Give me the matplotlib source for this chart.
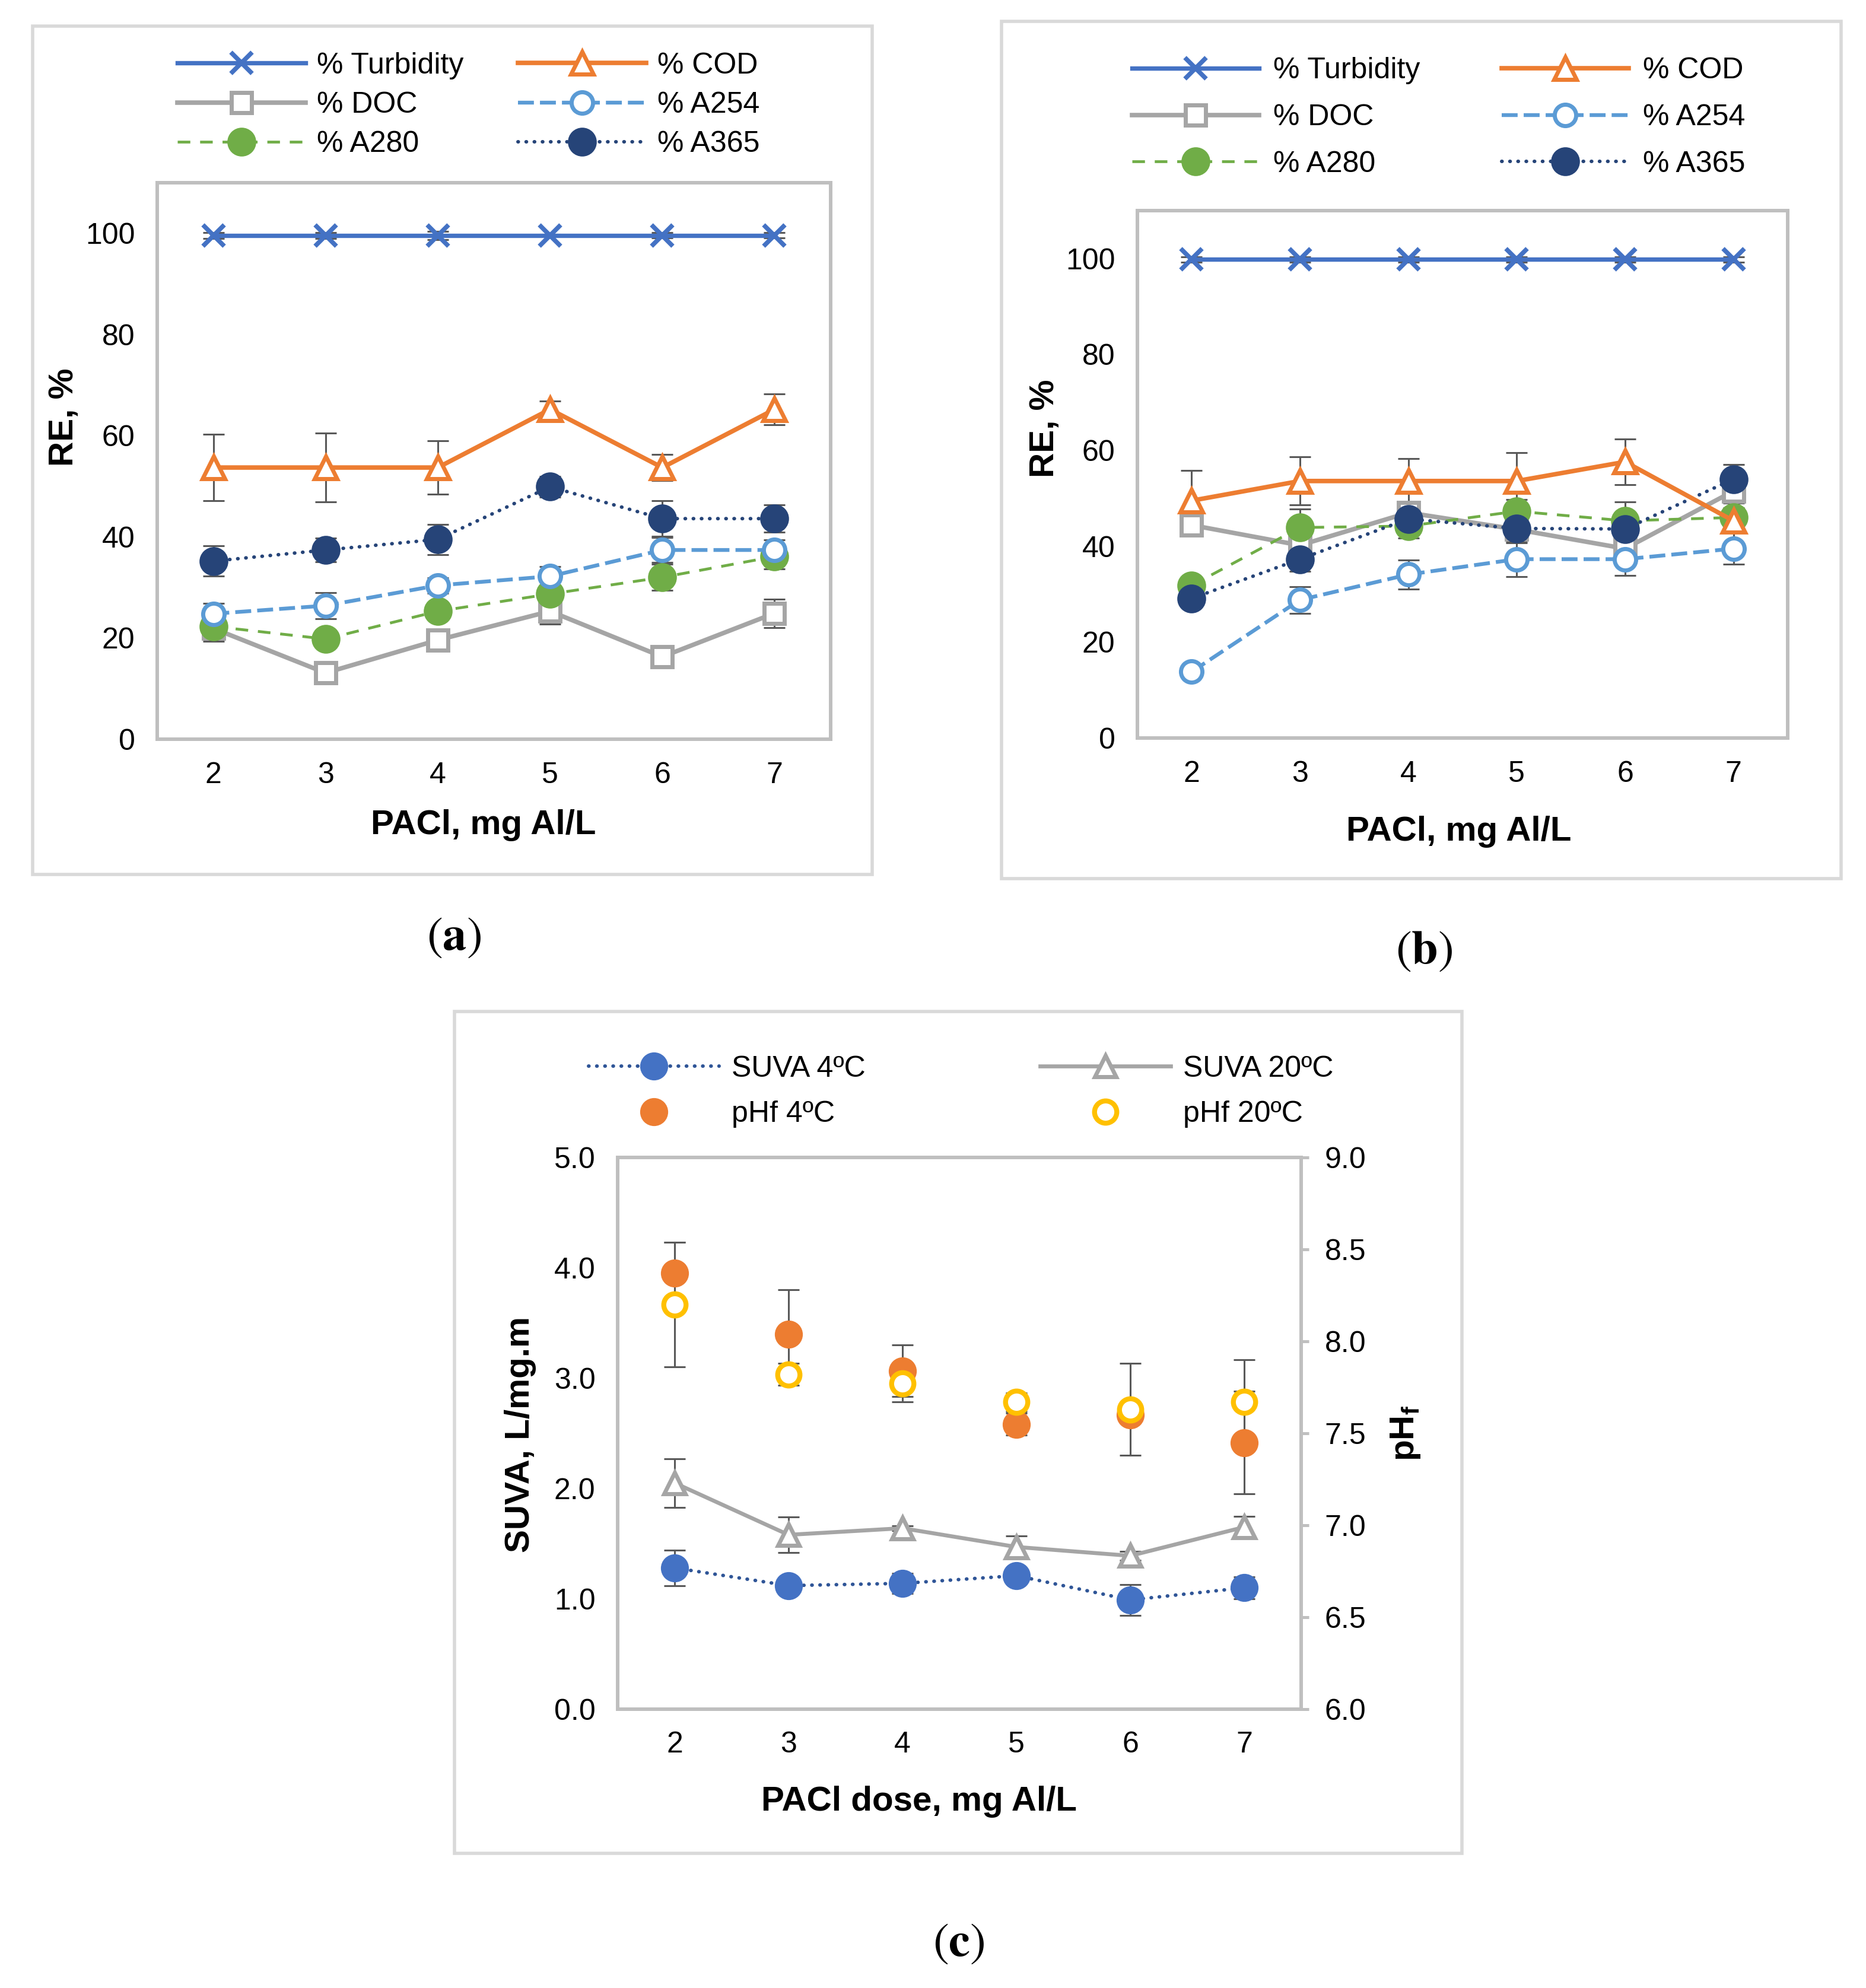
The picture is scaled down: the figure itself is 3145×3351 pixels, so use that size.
import matplotlib
matplotlib.use('Agg')
import matplotlib.pyplot as plt
from matplotlib.patches import Rectangle
from matplotlib.ticker import FormatStrFormatter

plt.rcParams['font.family'] = ['Liberation Sans', 'DejaVu Sans']

# PACl dose, mg Al/L
dose = [2, 3, 4, 5, 6, 7]

# panel (a): removal efficiency, %
turb_a = [99.6, 99.6, 99.6, 99.6, 99.6, 99.6]
turb_a_err = [0.6, 0.6, 0.8, 0.2, 0.5, 0.5]
cod_a = [53.7, 53.7, 53.7, 65.2, 53.7, 65.2]
cod_a_err = [6.6, 6.8, 5.3, 1.7, 2.6, 3.1]
doc_a = [21.9, 13.1, 19.6, 25.3, 16.3, 24.9]
doc_a_err = [2.5, 1.5, 1.5, 2.5, 1.5, 2.8]
a254_a = [24.8, 26.4, 30.4, 32.2, 37.4, 37.4]
a254_a_err = [2.0, 2.6, 1.5, 1.9, 2.5, 2.0]
a280_a = [22.3, 19.8, 25.3, 28.7, 32.0, 36.1]
a280_a_err = [1.5, 1.0, 1.5, 1.5, 2.6, 2.5]
a365_a = [35.2, 37.4, 39.5, 49.9, 43.6, 43.6]
a365_a_err = [3.0, 2.3, 3.0, 2.0, 3.5, 2.7]

# panel (b): removal efficiency, %
turb_b = [99.8, 99.8, 99.8, 99.8, 99.8, 99.8]
turb_b_err = [0.6, 0.6, 0.6, 0.6, 0.6, 0.6]
cod_b = [49.5, 53.6, 53.6, 53.6, 57.6, 45.3]
cod_b_err = [6.3, 5.0, 4.7, 5.9, 4.8, 2.0]
doc_b = [44.4, 40.2, 47.0, 43.5, 39.5, 51.5]
doc_b_err = [1.5, 2.0, 2.0, 2.0, 2.0, 2.5]
a254_b = [13.8, 28.8, 34.1, 37.3, 37.3, 39.5]
a254_b_err = [1.0, 2.8, 3.0, 3.6, 3.4, 3.3]
a280_b = [31.8, 43.9, 44.2, 47.3, 45.3, 46.0]
a280_b_err = [1.5, 3.8, 2.5, 2.5, 4.0, 2.0]
a365_b = [29.1, 37.3, 45.7, 43.7, 43.6, 54.0]
a365_b_err = [1.5, 2.5, 2.0, 3.0, 3.0, 3.0]

# panel (c): SUVA (left axis) and final pH (right axis)
suva4 = [1.28, 1.12, 1.14, 1.21, 0.99, 1.10]
suva4_err = [0.16, 0.03, 0.09, 0.05, 0.14, 0.10]
suva20 = [2.05, 1.58, 1.64, 1.47, 1.39, 1.65]
suva20_err = [0.22, 0.16, 0.02, 0.10, 0.04, 0.10]
ph4 = [8.37, 8.04, 7.84, 7.55, 7.60, 7.45]
ph4_err = [0.17, 0.24, 0.14, 0.06, 0.04, 0.28]
ph20 = [8.20, 7.82, 7.77, 7.67, 7.63, 7.67]
ph20_err = [0.34, 0.06, 0.10, 0.05, 0.25, 0.23]

W, H = 3145, 3351
fig = plt.figure(figsize=(W / 100, H / 100), dpi=100)

FRAME = '#BFBFBF'
BORDER = '#D9D9D9'
ERR = '#595959'
TICK_FS = 36
LAB_FS = 42


def fbox(x0, y0, x1, y1):
    # pixel box -> figure fraction [left, bottom, width, height]
    return [x0 / W, 1 - y1 / H, (x1 - x0) / W, (y1 - y0) / H]


def series(ax, y, err, color, label, marker, mfc, ms, lw, mew=5, dashes=None, dotted=False):
    ax.errorbar(dose, y, yerr=err, fmt='none', ecolor=ERR, elinewidth=2.2,
                capsize=13, capthick=2.2, zorder=2)
    line, = ax.plot(dose, y, color=color, lw=lw, marker=marker, ms=ms, mfc=mfc,
                    mec=color, mew=mew, label=label, zorder=3)
    if dashes is not None:
        line.set_dashes(dashes)
    if dotted:
        line.set_dash_capstyle('round')
    return line


def style_frame(ax):
    for s in ax.spines.values():
        s.set_color(FRAME)
        s.set_linewidth(4.3)


def re_panel(ax, turb, turb_e, cod, cod_e, doc, doc_e, a254, a254_e, a280, a280_e, a365, a365_e):
    h = {}
    h['doc'] = series(ax, doc, doc_e, '#A5A5A5', '% DOC', 's', 'white', 24, 5.5)
    h['a280'] = series(ax, a280, a280_e, '#70AD47', '% A280', 'o', '#70AD47', 30, 3.4, dashes=(4.5, 3.5))
    h['a254'] = series(ax, a254, a254_e, '#5B9BD5', '% A254', 'o', 'white', 26, 4.6, dashes=(4.2, 1.6))
    h['a365'] = series(ax, a365, a365_e, '#264478', '% A365', 'o', '#264478', 30, 4.3,
                       dashes=(0.1, 2.2), dotted=True)
    h['cod'] = series(ax, cod, cod_e, '#ED7D31', '% COD', '^', 'white', 27, 5.5)
    h['turb'] = series(ax, turb, turb_e, '#4472C4', '% Turbidity', 'x', '#4472C4', 26, 5.3, mew=5.5)
    ax.set_xlim(1.5, 7.5)
    ax.set_ylim(0, 110)
    ax.set_xticks(dose)
    ax.set_yticks([0, 20, 40, 60, 80, 100])
    ax.tick_params(length=0, pad=27, labelsize=TICK_FS)
    style_frame(ax)
    return [h['turb'], h['doc'], h['a280'], h['cod'], h['a254'], h['a365']]


# panel borders
for box in [(55, 44, 1470, 1474), (1688, 36, 3103, 1481), (766, 1705, 2464, 3124)]:
    x0, y0, x1, y1 = box
    fig.add_artist(Rectangle((x0 / W, 1 - y1 / H), (x1 - x0) / W, (y1 - y0) / H,
                             transform=fig.transFigure, fill=False,
                             edgecolor=BORDER, lw=4))

# ---- (a)
ax_a = fig.add_axes(fbox(265, 308, 1400, 1246))
hs = re_panel(ax_a, turb_a, turb_a_err, cod_a, cod_a_err, doc_a, doc_a_err,
              a254_a, a254_a_err, a280_a, a280_a_err, a365_a, a365_a_err)
ax_a.set_ylabel('RE, %', fontsize=LAB_FS, fontweight='bold', va='center')
ax_a.yaxis.set_label_coords(-0.138, 0.579)
ax_a.set_xlabel('PACl, mg Al/L', fontsize=LAB_FS, fontweight='bold', va='center')
ax_a.xaxis.set_label_coords(0.484, -0.155)
fig.legend(handles=hs, loc='center left', bbox_to_anchor=(299 / W, 1 - 177 / H),
           ncol=2, frameon=False, fontsize=TICK_FS, handlelength=4.32, handletextpad=0.38,
           columnspacing=1.84, labelspacing=0.41, borderpad=0, borderaxespad=0)

# ---- (b)
ax_b = fig.add_axes(fbox(1917, 355, 3013, 1244))
hs = re_panel(ax_b, turb_b, turb_b_err, cod_b, cod_b_err, doc_b, doc_b_err,
              a254_b, a254_b_err, a280_b, a280_b_err, a365_b, a365_b_err)
ax_b.set_ylabel('RE, %', fontsize=LAB_FS, fontweight='bold', va='center')
ax_b.yaxis.set_label_coords(-0.142, 0.587)
ax_b.set_xlabel('PACl, mg Al/L', fontsize=LAB_FS, fontweight='bold', va='center')
ax_b.xaxis.set_label_coords(0.494, -0.178)
fig.legend(handles=hs, loc='center left', bbox_to_anchor=(1908 / W, 1 - 198 / H),
           ncol=2, frameon=False, fontsize=TICK_FS, handlelength=4.28, handletextpad=0.48,
           columnspacing=2.76, labelspacing=0.65, borderpad=0, borderaxespad=0)

# ---- (c)
ax_c = fig.add_axes(fbox(1041, 1951, 2193, 2881))
ax_r = ax_c.twinx()
s4 = series(ax_c, suva4, suva4_err, '#2F5597', 'SUVA 4\u00baC', 'o', '#4472C4', 29, 4.3,
            dashes=(0.1, 2.2), dotted=True)
s4.set_markeredgecolor('#4472C4')
s20 = series(ax_c, suva20, suva20_err, '#A5A5A5', 'SUVA 20\u00baC', '^', 'white', 26, 4.8)
p4 = series(ax_r, ph4, ph4_err, '#ED7D31', 'pHf 4\u00baC', 'o', '#ED7D31', 29, 0)
p4.set_linestyle('none')
p20 = series(ax_r, ph20, ph20_err, '#FFC000', 'pHf 20\u00baC', 'o', 'white', 27, 0, mew=6)
p20.set_linestyle('none')

ax_c.set_xlim(1.5, 7.5)
ax_c.set_xticks(dose)
ax_c.set_ylim(0, 5)
ax_c.set_yticks([0, 1, 2, 3, 4, 5])
ax_c.yaxis.set_major_formatter(FormatStrFormatter('%.1f'))
ax_c.tick_params(length=0, pad=27, labelsize=TICK_FS)
ax_r.set_ylim(6, 9)
ax_r.set_yticks([6.0, 6.5, 7.0, 7.5, 8.0, 8.5, 9.0])
ax_r.yaxis.set_major_formatter(FormatStrFormatter('%.1f'))
ax_r.tick_params(axis='y', length=9.5, width=3.6, color=FRAME, pad=19, labelsize=TICK_FS)
style_frame(ax_c)
style_frame(ax_r)

ax_c.set_ylabel('SUVA, L/mg.m', fontsize=LAB_FS, fontweight='bold', va='center')
ax_c.yaxis.set_label_coords(-0.1424, 0.498)
ax_r.set_ylabel(r'pH$_\mathregular{f}$', fontsize=LAB_FS, fontweight='bold', va='center')
ax_r.yaxis.set_label_coords(1.1528, 0.5)
ax_c.set_xlabel('PACl dose, mg Al/L', fontsize=LAB_FS, fontweight='bold', va='center')
ax_c.xaxis.set_label_coords(0.441, -0.168)

fig.legend(handles=[s4, p4, s20, p20], loc='center left',
           bbox_to_anchor=(992 / W, 1 - 1840 / H), ncol=2, frameon=False,
           fontsize=TICK_FS, handlelength=4.4, handletextpad=0.42, columnspacing=5.88,
           labelspacing=0.61, borderpad=0, borderaxespad=0)

# panel captions
for lbl, (px, py) in zip('abc', [(765, 1580), (2400, 1603), (1616, 3276)]):
    fig.text(px / W, 1 - py / H, r'$(\mathbf{%s})$' % lbl, math_fontfamily='stix',
             fontsize=58, ha='center', va='center')

fig.savefig('out.png', dpi=100, facecolor='white')
